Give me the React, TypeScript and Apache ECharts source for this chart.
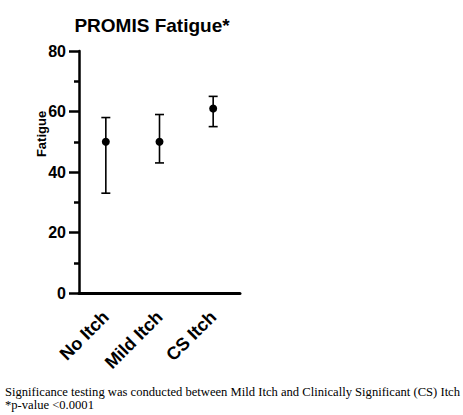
import React, { useEffect, useRef } from "react";
import * as echarts from "echarts";

const categories = ["No Itch", "Mild Itch", "CS Itch"];
const means = [50, 50, 61];
const lowerBounds = [33, 43, 55];
const upperBounds = [58, 59, 65];
const yTicks = [0, 20, 40, 60, 80];

const SANS = "'Liberation Sans', Arial, Helvetica, sans-serif";
const SERIF = "'Liberation Serif', 'Times New Roman', serif";

export default function App() {
  const ref = useRef<HTMLDivElement>(null);

  useEffect(() => {
    if (!ref.current) return;
    const chart = echarts.init(ref.current, undefined, { renderer: "svg" });

    const errData = categories.map((_, i) => [i, lowerBounds[i], upperBounds[i]]);

    chart.setOption({
      animation: false,
      backgroundColor: "#ffffff",
      title: {
        text: "PROMIS Fatigue*",
        left: 147,
        top: 11,
        textAlign: "center",
        textStyle: {
          fontFamily: SANS,
          fontWeight: "bold",
          fontSize: 19,
          color: "#000",
        },
      },
      grid: { left: 79, top: 51, width: 161, height: 242, containLabel: false },
      xAxis: {
        type: "category",
        data: categories,
        boundaryGap: true,
        axisLine: { lineStyle: { color: "#000", width: 3 } },
        axisTick: {
          alignWithLabel: true,
          length: 9,
          lineStyle: { color: "#000", width: 3 },
        },
        axisLabel: {
          rotate: 45,
          margin: 21,
          interval: 0,
          fontFamily: SANS,
          fontWeight: "bold",
          fontSize: 18,
          color: "#000",
        },
        splitLine: { show: false },
      },
      yAxis: {
        type: "value",
        min: yTicks[0],
        max: yTicks[yTicks.length - 1],
        interval: 20,
        axisLine: { show: true, lineStyle: { color: "#000", width: 2.5 } },
        axisTick: { show: true, inside: false, length: 10, lineStyle: { color: "#000", width: 2.5 } },
        minorTick: { show: true, splitNumber: 2, length: 5, lineStyle: { color: "#000", width: 2.5 } },
        axisLabel: {
          margin: 13,
          fontFamily: SANS,
          fontWeight: "bold",
          fontSize: 16,
          color: "#000",
        },
        splitLine: { show: false },
        minorSplitLine: { show: false },
      },
      graphic: [
        {
          type: "text",
          x: 41,
          y: 134,
          rotation: Math.PI / 2,
          style: {
            text: "Fatigue",
            fontFamily: SANS,
            fontWeight: "bold",
            fontSize: 13,
            fill: "#000",
            align: "center",
            verticalAlign: "middle",
          },
        },
        {
          type: "text",
          left: 5,
          top: 385,
          style: {
            text:
              "Significance testing was conducted between Mild Itch and Clinically Significant (CS) Itch\n*p-value <0.0001",
            fontFamily: SERIF,
            fontSize: 12.6,
            lineHeight: 13,
            fill: "#000",
          },
        },
      ],
      series: [
        {
          type: "custom",
          data: errData,
          z: 2,
          renderItem: (params: any, api: any) => {
            const x = api.value(0);
            const lo = api.coord([x, api.value(1)]);
            const hi = api.coord([x, api.value(2)]);
            const cap = 4.5;
            const style = { stroke: "#000", lineWidth: 1.6 };
            return {
              type: "group",
              children: [
                { type: "line", shape: { x1: lo[0], y1: lo[1], x2: hi[0], y2: hi[1] }, style },
                { type: "line", shape: { x1: hi[0] - cap, y1: hi[1], x2: hi[0] + cap, y2: hi[1] }, style },
                { type: "line", shape: { x1: lo[0] - cap, y1: lo[1], x2: lo[0] + cap, y2: lo[1] }, style },
              ],
            };
          },
        },
        {
          type: "scatter",
          data: means,
          symbol: "circle",
          symbolSize: 8,
          z: 3,
          itemStyle: { color: "#000", opacity: 1 },
        },
      ],
    });

    return () => chart.dispose();
  }, []);

  return (
    <div
      ref={ref}
      style={{ position: "fixed", left: 0, top: 0, width: 463, height: 415 }}
    />
  );
}
